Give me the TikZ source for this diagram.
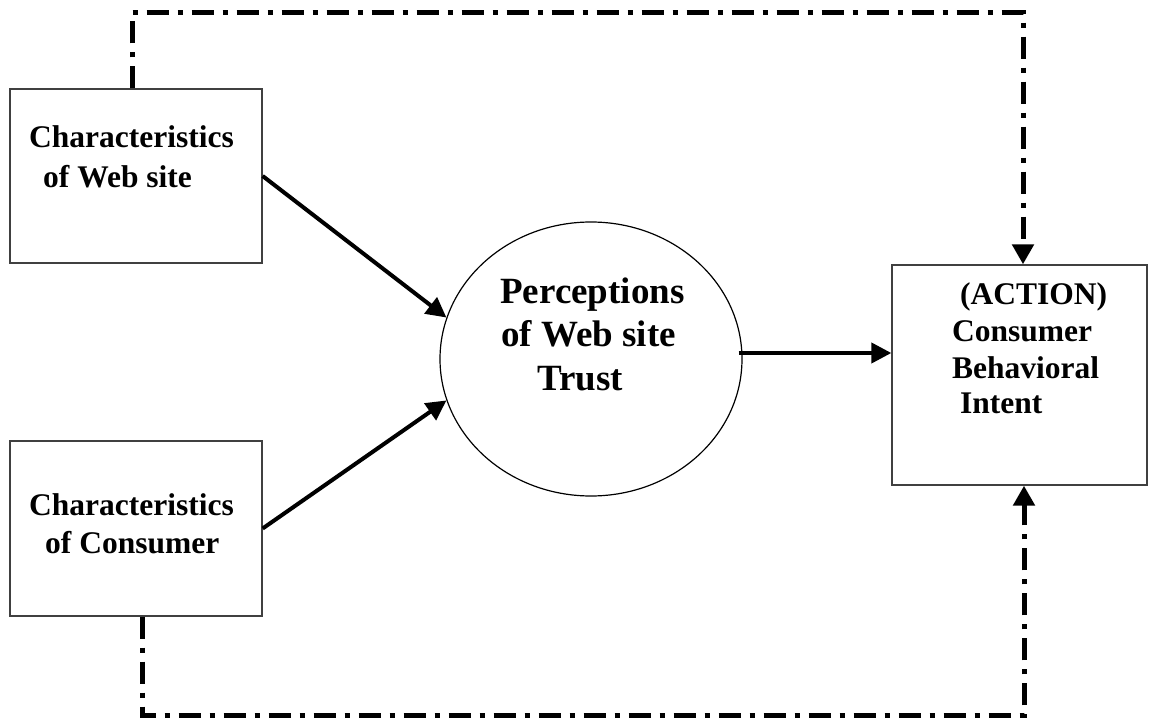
\documentclass[tikz,border=0pt]{standalone}
\usepackage{fontspec}
\setmainfont{Liberation Serif}
\usetikzlibrary{arrows.meta,shapes.geometric}
\begin{document}
\begin{tikzpicture}[x=1pt,y=-1pt,
  boxst/.style={draw=black!75, line width=1.3pt, inner sep=0pt},
  ellst/.style={ellipse, draw=black, line width=1.2pt, inner sep=0pt},
  lbl/.style={font=\bfseries\fontsize{31.5}{38}\selectfont, anchor=base west, inner sep=0pt},
  big/.style={font=\bfseries\fontsize{37}{43}\selectfont, anchor=base west, inner sep=0pt},
  conn/.style={line width=4pt, -{Triangle[length=20pt,width=20pt]}},
  fb/.style={line width=5pt, line cap=butt, dash pattern=on 22pt off 9pt on 5pt off 9pt, -{Triangle[length=20pt,width=21pt]}}]
\useasboundingbox (0,0) rectangle (1149,719);

% boxes
\node[boxst, minimum width=252pt, minimum height=174pt] (web) at (136,176) {};
\node[boxst, minimum width=252pt, minimum height=175pt] (cons) at (136,528.5) {};
\node[boxst, minimum width=255pt, minimum height=220pt] (act) at (1019.5,375) {};
\node[ellst, minimum width=302pt, minimum height=274pt] (perc) at (591,359) {};

% texts
\node[lbl] (w1) at (29,148) {Characteristics};
\node[lbl] (w2) at (43,188) {of Web site};
\node[lbl] (c1) at (29,515) {Characteristics};
\node[lbl] (c2) at (45,553) {of Consumer};
\node[big] (p1) at (500,304) {Perceptions};
\node[big] (p2) at (501,347) {of Web site};
\node[big] (p3) at (537,391) {Trust};
\node[lbl] (a1) at (960,305) {(ACTION)};
\node[lbl] (a2) at (952,342) {Consumer};
\node[lbl] (a3) at (952,378) {Behavioral};
\node[lbl] (a4) at (960,413) {Intent};

% solid connectors
\draw[conn] (web.east) -- (perc.164);
\draw[conn] (cons.east) -- (perc.196);
\coordinate (m) at ([yshift=6pt,xshift=-4pt]perc.east);
\draw[conn] (m) -- (m -| act.west);

% feedback connectors
\coordinate (tl) at (132,13);
\coordinate (tr) at (1023,13);
\coordinate (bl) at (142,715);
\coordinate (br) at (1024,715);
\draw[fb] (web.north -| tl) -- (tl) -- (tr) -- (act.north -| tr);
\draw[fb] (cons.south -| bl) -- (bl) -- (br) -- (act.south -| br);
\end{tikzpicture}
\end{document}
